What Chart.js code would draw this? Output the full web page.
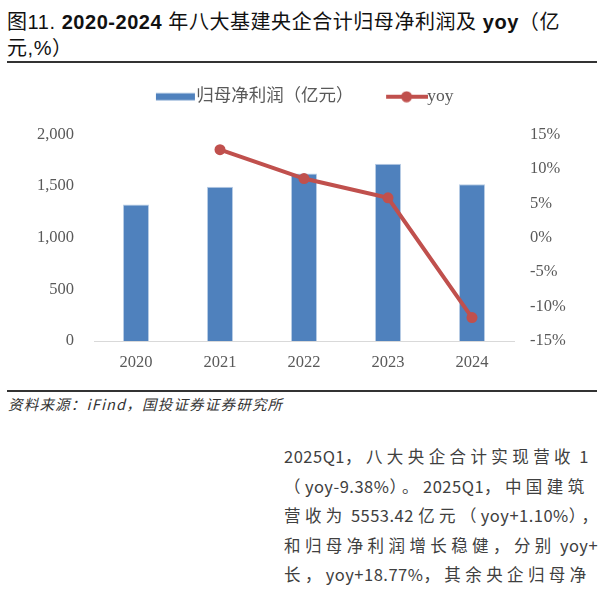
<!DOCTYPE html>
<html>
<head>
<meta charset="utf-8">
<script src="https://cdn.jsdelivr.net/npm/chart.js@4.4.1/dist/chart.umd.min.js"></script>
<style>
  body { margin: 0; width: 600px; height: 616px; background: #fff; position: relative; overflow: hidden; font-family: "Noto Sans CJK SC", sans-serif; }
  .title { position: absolute; left: 7px; top: 9px; font-size: 20px; line-height: 26px; color: #111; font-family: "Liberation Sans", "Noto Sans CJK SC", sans-serif; letter-spacing: 0.55px; white-space: nowrap; }
  .rule { position: absolute; left: 7px; width: 590px; height: 2px; background: #333; }
  #wrap { position: absolute; left: 0; top: 64px; width: 600px; height: 318px; }
  .source { position: absolute; left: 8px; top: 393px; font-size: 14.5px; line-height: 22px; font-style: italic; color: #333; letter-spacing: 1.2px; white-space: nowrap; }
  .body { position: absolute; left: 284px; top: 442px; width: 316px; overflow: hidden; font-size: 16.5px; line-height: 29.5px; color: #404040; letter-spacing: 0.5px; white-space: nowrap; }
  .c { letter-spacing: 4.4px; }
</style>
</head>
<body>
<div class="title">图11. <b>2020-2024</b> 年八大基建央企合计归母净利润及 <b>yoy</b>（亿<br>元,%）</div>
<div class="rule" style="top:61px"></div>
<div id="wrap"><canvas id="myChart" width="600" height="318"></canvas></div>
<div class="rule" style="top:390px"></div>
<div class="source">资料来源：iFind，国投证券证券研究所</div>
<div class="body" id="bodyText"></div>
<script>
const years = ["2020", "2021", "2022", "2023", "2024"];
const profit = [1323, 1493, 1622, 1716, 1517];
const yoy = [null, 12.8, 8.6, 5.8, -11.6];
const profitLabel = "归母净利润（亿元）";
const yoyLabel = "yoy";
const bodyLines = [
  "2025Q1，八大央企合计实现营收 1",
  "（yoy-9.38%）。2025Q1，中国建筑",
  "营收为 5553.42 亿元（yoy+1.10%），",
  "和归母净利润增长稳健，分别 yoy+",
  "长，yoy+18.77%，其余央企归母净",
];

const BLUE = "#4F81BD";
const RED = "#C0504D";
const GREY = "#595959";
const tickFont = { family: "'Liberation Serif', 'Noto Sans CJK SC'", size: 16.5 };

// body paragraph: widen the CJK runs a bit, like the justified original
const bodyText = document.querySelector("#bodyText");
bodyText.innerHTML = bodyLines
  .map((line) => "<div>" + line.replace(/([\u3000-\u9fff\uff00-\uffef]+)/g, '<span class="c">$1</span>') + "</div>")
  .join("");

const legendBar = () => {
  const c = document.createElement("canvas");
  c.width = 60;
  c.height = 12;
  const g = c.getContext("2d");
  g.fillStyle = BLUE;
  g.fillRect(19, 2.5, 39, 7);
  return c;
};

const legendLine = () => {
  const c = document.createElement("canvas");
  c.width = 60;
  c.height = 12;
  const g = c.getContext("2d");
  g.strokeStyle = RED;
  g.lineWidth = 4;
  g.beginPath();
  g.moveTo(18, 6);
  g.lineTo(60, 6);
  g.stroke();
  g.fillStyle = RED;
  g.beginPath();
  g.arc(38.5, 6, 5.5, 0, Math.PI * 2);
  g.fill();
  return c;
};

// push the plot area down below the legend
const legendSpace = {
  id: "legendSpace",
  beforeInit(chart) {
    const fit = chart.legend.fit;
    chart.legend.fit = function () {
      fit.bind(chart.legend)();
      this.height += 19;
    };
  },
};

new Chart(document.querySelector("#myChart"), {
  data: {
    labels: years,
    datasets: [
      {
        type: "bar",
        label: profitLabel,
        data: profit,
        yAxisID: "y",
        order: 2,
        backgroundColor: BLUE,
        borderColor: "#b9cde5",
        borderWidth: 1,
        barPercentage: 0.31,
        categoryPercentage: 1,
      },
      {
        type: "line",
        label: yoyLabel,
        data: yoy,
        yAxisID: "y1",
        order: 1,
        borderColor: RED,
        backgroundColor: RED,
        borderWidth: 4,
        pointRadius: 5.5,
        pointBackgroundColor: RED,
        pointBorderWidth: 0,
        tension: 0,
      },
    ],
  },
  options: {
    responsive: false,
    animation: false,
    layout: { padding: { top: 0, left: 0, right: 0, bottom: 0 } },
    plugins: {
      tooltip: { enabled: false },
      legend: {
        position: "top",
        labels: {
          usePointStyle: true,
          pointStyleWidth: 41,
          padding: 24,
          color: GREY,
          font: { family: "'Liberation Serif', 'Noto Sans CJK SC'", size: 17.5 },
          generateLabels: () => [
            { text: profitLabel, pointStyle: legendBar(), fillStyle: BLUE, strokeStyle: BLUE, lineWidth: 0, fontColor: GREY, datasetIndex: 0 },
            { text: yoyLabel, pointStyle: legendLine(), fillStyle: RED, strokeStyle: RED, lineWidth: 0, fontColor: GREY, datasetIndex: 1 },
          ],
        },
      },
    },
    scales: {
      x: {
        grid: { display: false, drawTicks: false },
        border: { display: true, color: "#d9d9d9", width: 1 },
        ticks: { color: GREY, font: tickFont, padding: 12 },
        afterFit: (scale) => { scale.height = 41; },
      },
      y: {
        position: "left",
        min: 0,
        max: 2000,
        grid: { display: false, drawTicks: false },
        border: { display: false },
        ticks: {
          stepSize: 500,
          color: GREY,
          font: tickFont,
          padding: 20,
          callback: (v) => v.toLocaleString("en-US"),
        },
        afterFit: (scale) => { scale.width = 94; },
      },
      y1: {
        position: "right",
        min: -15,
        max: 15,
        grid: { display: false, drawTicks: false },
        border: { display: false },
        ticks: {
          stepSize: 5,
          color: GREY,
          font: tickFont,
          padding: 16,
          callback: (v) => v + "%",
        },
        afterFit: (scale) => { scale.width = 86; },
      },
    },
  },
  plugins: [legendSpace],
});
</script>
</body>
</html>
